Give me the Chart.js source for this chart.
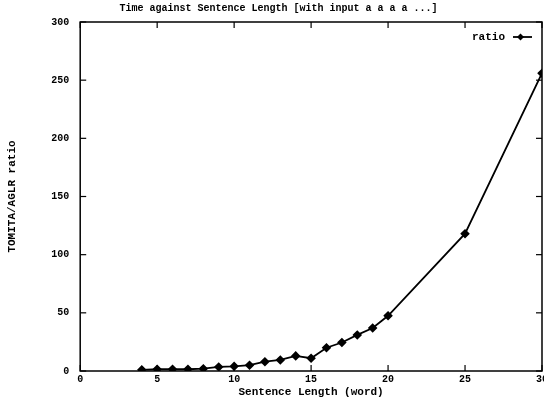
<!DOCTYPE html>
<html>
<head>
<meta charset="utf-8">
<script src="https://cdn.jsdelivr.net/npm/chart.js@4.4.1/dist/chart.umd.min.js"></script>
<style>
html, body { margin: 0; padding: 0; background: #fff; overflow: hidden; }
#wrap { position: relative; width: 551px; height: 401px; }
</style>
</head>
<body>
<div id="wrap"><canvas id="chart"></canvas></div>
<script>
const sentenceLength = [4, 5, 6, 7, 8, 9, 10, 11, 12, 13, 14, 15, 16, 17, 18, 19, 20, 25, 30];
const ratio = [1, 1.5, 1.5, 1.5, 2, 3.5, 4, 5, 8, 9.5, 13, 11, 20, 24.5, 31, 37, 47.5, 118, 256];
const xTickValues = [0, 5, 10, 15, 20, 25, 30];
const yTickValues = [0, 50, 100, 150, 200, 250, 300];
const seriesName = 'ratio';

const monoFont = "'Liberation Mono', 'DejaVu Sans Mono', monospace";

function line(ctx, x1, y1, x2, y2) {
    ctx.beginPath();
    ctx.moveTo(x1, y1);
    ctx.lineTo(x2, y2);
    ctx.stroke();
}

// gnuplot-like frame: box all round, ticks pointing inwards on every side
const frameTicks = {
    id: 'frameTicks',
    afterDraw(chart) {
        const { ctx, chartArea: a, scales } = chart;
        ctx.save();
        ctx.strokeStyle = '#000';
        ctx.lineWidth = 1.5;
        ctx.strokeRect(a.left, a.top, a.right - a.left, a.bottom - a.top);
        ctx.lineWidth = 1.2;
        scales.x.ticks.forEach((t, i) => {
            const px = scales.x.getPixelForTick(i);
            line(ctx, px, a.bottom, px, a.bottom - 6);
            line(ctx, px, a.top, px, a.top + 6);
        });
        scales.y.ticks.forEach((t, i) => {
            const py = scales.y.getPixelForTick(i);
            line(ctx, a.left, py, a.left + 6, py);
            line(ctx, a.right, py, a.right - 6, py);
        });

        // key, top right inside the frame: text then sample
        const ds = chart.data.datasets[0];
        const ky = a.top + 15;
        const x2 = a.right - 10;
        const x1 = x2 - 19;
        ctx.fillStyle = '#000';
        ctx.font = 'bold 11px ' + monoFont;
        ctx.textAlign = 'right';
        ctx.textBaseline = 'middle';
        ctx.fillText(ds.label, x1 - 8, ky);
        ctx.lineWidth = ds.borderWidth;
        line(ctx, x1, ky, x2, ky);
        const mx = (x1 + x2) / 2 - 2;
        ctx.beginPath();
        ctx.moveTo(mx, ky - 3.5);
        ctx.lineTo(mx + 3.5, ky);
        ctx.lineTo(mx, ky + 3.5);
        ctx.lineTo(mx - 3.5, ky);
        ctx.closePath();
        ctx.fill();
        ctx.restore();
    }
};

new Chart(document.getElementById('chart'), {
    type: 'line',
    data: {
        datasets: [{
            label: seriesName,
            data: sentenceLength.map((x, i) => ({ x: x, y: ratio[i] })),
            borderColor: '#000',
            backgroundColor: '#000',
            borderWidth: 1.8,
            pointStyle: 'rectRot',
            pointRadius: 3.5,
            pointBackgroundColor: '#000',
            pointBorderColor: '#000',
            tension: 0,
            fill: false
        }]
    },
    options: {
        responsive: true,
        maintainAspectRatio: false,
        animation: false,
        layout: { padding: { top: 2, left: 6, right: 0, bottom: 3 } },
        plugins: {
            legend: { display: false },
            tooltip: { enabled: false },
            title: {
                display: true,
                text: 'Time against Sentence Length [with input a a a a ...]',
                color: '#000',
                font: { family: monoFont, size: 10, weight: 'bold' },
                padding: { top: 0, bottom: 8 }
            }
        },
        scales: {
            x: {
                type: 'linear',
                min: 0,
                max: 30,
                afterBuildTicks: s => { s.ticks = xTickValues.map(v => ({ value: v })); },
                grid: { display: false, drawTicks: false },
                border: { display: false },
                ticks: {
                    color: '#000',
                    padding: 3,
                    maxRotation: 0,
                    font: { family: monoFont, size: 10, weight: 'bold', lineHeight: 1 }
                },
                title: {
                    display: true,
                    text: 'Sentence Length (word)',
                    color: '#000',
                    font: { family: monoFont, size: 11, weight: 'bold', lineHeight: 1 },
                    padding: { top: 0, bottom: 0 }
                }
            },
            y: {
                min: 0,
                max: 300,
                afterBuildTicks: s => { s.ticks = yTickValues.map(v => ({ value: v })); },
                grid: { display: false, drawTicks: false },
                border: { display: false },
                ticks: {
                    color: '#000',
                    padding: 11,
                    font: { family: monoFont, size: 10, weight: 'bold' }
                },
                title: {
                    display: true,
                    text: 'TOMITA/AGLR ratio',
                    color: '#000',
                    font: { family: monoFont, size: 11, weight: 'bold' },
                    padding: { top: 0, bottom: 21 }
                }
            }
        }
    },
    plugins: [frameTicks]
});
</script>
</body>
</html>
